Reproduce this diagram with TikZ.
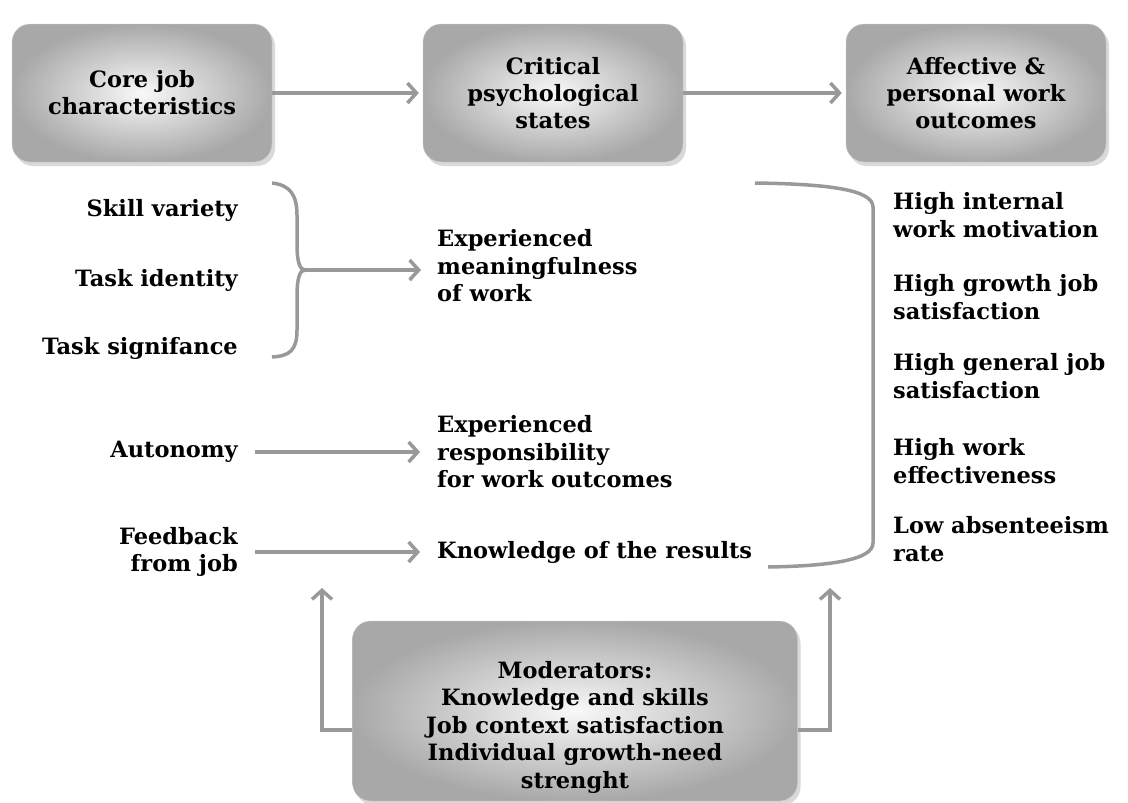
\documentclass[tikz,border=0pt]{standalone}
\usepackage{fontspec}
\setmainfont{DejaVu Serif}
\usetikzlibrary{arrows.meta,calc,positioning,shadows}

\begin{document}
\begin{tikzpicture}[x=1pt,y=-1pt,
  box/.style={rounded corners=18pt,draw=gray!35,inner color=gray!5,outer color=gray!68,
    minimum width=260pt,minimum height=138pt,align=center,font=\fontsize{22.5}{27}\selectfont\bfseries,
    drop shadow={shadow xshift=3pt,shadow yshift=-4pt,opacity=0.3}},
  lbl/.style={font=\fontsize{22.5}{27.5}\selectfont\bfseries,inner sep=0pt},
  flow/.style={draw=gray!80,line width=3.5pt,-{Straight Barb[length=9pt,width=20pt]}},
  brk/.style={draw=gray!80,line width=3.5pt}]
\useasboundingbox (0,0) rectangle (1128,803);
\node[box] (core) at (142,93) {Core job\\characteristics};
\node[box] (crit) at (553,93) {Critical\\psychological\\states};
\node[box] (affect) at (976,93) {Affective \&\\personal work\\outcomes};
\draw[flow,shorten >=4pt] (core) -- (crit);
\draw[flow,shorten >=4pt] (crit) -- (affect);

% job characteristics
\node[lbl,anchor=east] (skill) at (238,210) {Skill variety};
\node[lbl,anchor=east] (ident) at (238,280) {Task identity};
\node[lbl,anchor=east] (signif) at (238,348) {Task signifance};
\node[lbl,anchor=east] (auton) at (238,452) {Autonomy};
\node[lbl,anchor=east,align=right] (feed) at (238,552) {Feedback\\from job};

% psychological states
\node[lbl,anchor=west,align=left] (meaning) at (437,266) {Experienced\\meaningfulness\\of work};
\node[lbl,anchor=west,align=left] (resp) at (437,452) {Experienced\\responsibility\\for work outcomes};
\node[lbl,anchor=west] (know) at (437,552) {Knowledge of the results};

% outcomes
\node[lbl,anchor=west,align=left] (out1) at (893,215) {High internal\\work motivation};
\node[lbl,anchor=west,align=left] (out2) at (893,297) {High growth job\\satisfaction};
\node[lbl,anchor=west,align=left] (out3) at (893,376) {High general job\\satisfaction};
\node[lbl,anchor=west,align=left] (out4) at (893,461) {High work\\effectiveness};
\node[lbl,anchor=west,align=left] (out5) at (893,539) {Low absenteeism\\rate};

% brace into meaningfulness
\coordinate (bracetip) at (305,270);
\draw[brk] (272,183) .. controls (290,185) and (297,195) .. (297,215) -- (297,245)
  .. controls (297,262) and (300,270) .. (bracetip)
  .. controls (300,270) and (297,278) .. (297,295) -- (297,330)
  .. controls (297,350) and (290,356) .. (272,357);
\draw[flow,shorten >=16pt] (bracetip) -- (bracetip -| meaning.west);
\draw[flow,shorten <=17pt,shorten >=17pt] (auton.east) -- (resp.west);
\draw[flow,shorten <=17pt,shorten >=17pt] (feed.east) -- (know.west);

% bracket towards outcomes
\draw[brk] (755,183) .. controls (830,184) and (873,190) .. (873,207) -- (873,543)
  .. controls (873,560) and (830,566) .. (768,567);

% moderators
\node[box,minimum width=445pt,minimum height=180pt] (mod) at (575,711) {};
\node[lbl,align=center] (modtxt) at (575,727) {Moderators:\\Knowledge and skills\\Job context satisfaction\\Individual growth-need\\strenght};
\coordinate (lefttip) at (322,588);
\coordinate (righttip) at (830,588);
\draw[flow] ([yshift=-19pt]mod.west) -| (lefttip);
\draw[flow] ([yshift=-19pt]mod.east) -| (righttip);
\end{tikzpicture}
\end{document}
